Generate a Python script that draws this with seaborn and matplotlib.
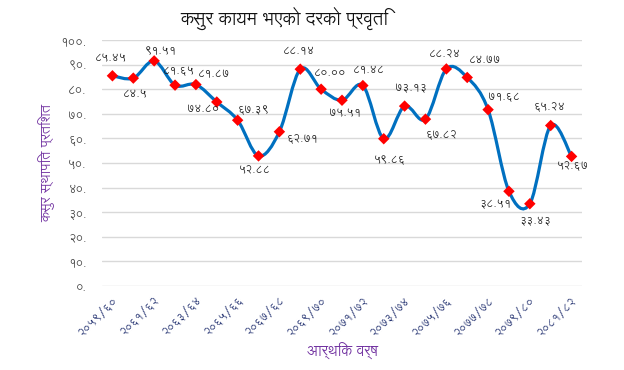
import numpy as np
import matplotlib
matplotlib.use('Agg')
import matplotlib.pyplot as plt
from matplotlib.path import Path
from matplotlib.patches import PathPatch
import seaborn as sns
import pandas as pd

# data
years = ['2059/60', '2060/61', '2061/62', '2062/63', '2063/64', '2064/65',
         '2065/66', '2066/67', '2067/68', '2068/69', '2069/70', '2070/71',
         '2071/72', '2072/73', '2073/74', '2074/75', '2075/76', '2076/77',
         '2077/78', '2078/79', '2079/80', '2080/81', '2081/82']
rate_txt = ['85.45', '84.5', '91.51', '81.65', '81.87', '74.80', '67.39',
            '52.88', '62.71', '88.14', '80.00', '75.51', '81.48', '59.86',
            '73.13', '67.82', '88.24', '84.77', '71.68', '38.51', '33.43',
            '65.24', '52.67']
yticks = [0, 10, 20, 30, 40, 50, 60, 70, 80, 90, 100]

title = 'कसुर कायम भएको दरको प्रवृति'
ylabel = 'कसुर स्थापित प्रतिशत'
xlabel = 'आर्थिक वर्ष'

# label offsets in pixels (dx, dy)
lbl_off = [(-1, 17), (2, -17), (7, 9), (4, 14), (18, 10), (-14, -8), (16, 10),
           (-4, -15), (23, -8), (-1, 17), (9, 16), (3, -14), (6, 15), (6, -22),
           (6, 17), (16, -16), (-1, 14), (18, 17), (16, 12), (-13, -14),
           (6, -18), (-1, 18), (1, -10)]

NEP = str.maketrans('0123456789', '०१२३४५६७८९')


def nep(s):
    return str(s).translate(NEP)


sns.set_style('white')
plt.rcParams['font.family'] = ['Lohit Devanagari', 'Noto Sans Devanagari', 'DejaVu Sans']

rate = [float(s) for s in rate_txt]
df = pd.DataFrame({'x': np.arange(len(years)), 'rate': rate})

fig = plt.figure(figsize=(6.24, 3.70), dpi=100)
ax = fig.add_axes([102 / 624, 1 - 286 / 370, 480 / 624, 246 / 370])

# smoothed line, bezier segments through the points
P = df[['x', 'rate']].to_numpy()
n = len(P)
verts = [P[0]]
codes = [Path.MOVETO]
for i in range(n - 1):
    p0, p1, p2, p3 = P[max(i - 1, 0)], P[i], P[i + 1], P[min(i + 2, n - 1)]
    verts += [p1 + (p2 - p0) / 6, p2 - (p3 - p1) / 6, p2]
    codes += [Path.CURVE4] * 3
ax.add_patch(PathPatch(Path(verts, codes), facecolor='none',
                       edgecolor='#0070C0', lw=2.3, zorder=2))

sns.scatterplot(data=df, x='x', y='rate', marker='D', s=34, color='#FF0000',
                edgecolor='none', ax=ax, zorder=3)

for i, (xv, v) in enumerate(zip(df['x'], rate)):
    dx, dy = lbl_off[i]
    ax.annotate(nep(rate_txt[i]), (xv, v), xytext=(dx, dy),
                textcoords='offset pixels', ha='center', va='center',
                fontsize=8, color='#1a1a1a', zorder=4)

ax.set_xlim(-0.5, n - 0.5)
ax.set_ylim(0, 100)
ax.set_yticks(yticks)
ax.set_yticklabels([nep(t) + '.' for t in yticks], color='#404040', fontsize=8.5)
ax.set_xticks(df['x'][::2])
ax.set_xticklabels([nep(y) for y in years[::2]], rotation=45, ha='right',
                   va='top', rotation_mode='anchor', color='#1B2A6B', fontsize=8)
ax.tick_params(length=0, axis='y', pad=11)
ax.tick_params(length=0, axis='x', pad=6)
ax.grid(axis='y', color='#D9D9D9', lw=1)
ax.set_axisbelow(True)
sns.despine(ax=ax, left=True, bottom=True)
ax.set_xlabel('')
ax.set_ylabel('')

fig.text(284 / 624, 1 - 18 / 370, title, ha='center', va='center',
         fontsize=13, color='#111111')
fig.text(47 / 624, 1 - 163 / 370, ylabel, rotation=90, ha='center',
         va='center', fontsize=10, color='#7030A0')
fig.text(342 / 624, 1 - 352 / 370, xlabel, ha='center', va='center',
         fontsize=10.5, color='#7030A0')

fig.savefig('out.png', dpi=100)
